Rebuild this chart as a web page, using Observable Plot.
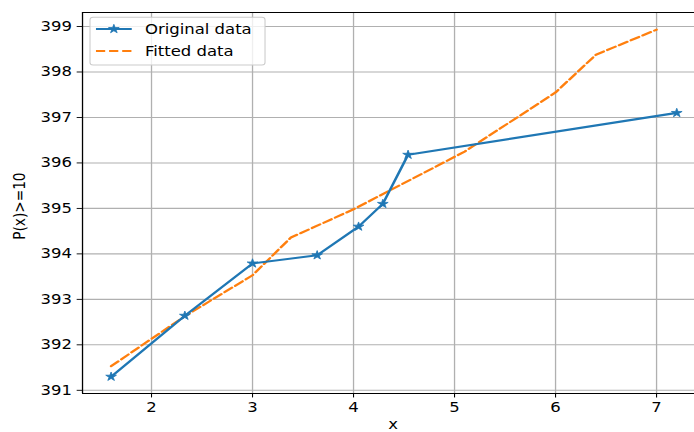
<!DOCTYPE html>
<html>
<head>
<meta charset="utf-8">
<script src="https://cdn.jsdelivr.net/npm/d3@7"></script>
<script src="https://cdn.jsdelivr.net/npm/@observablehq/plot@0.6"></script>
<style>
  html, body { margin: 0; padding: 0; background: #fff; }
  #chart { width: 694px; height: 432px; overflow: hidden; }
</style>
</head>
<body>
<div id="chart"></div>
<script>
// ---- data ----
const seriesNames = ["Original data", "Fitted data"];
const origX = [1.6, 2.33, 3.0, 3.64, 4.05, 4.29, 4.54, 7.2];
const origY = [391.3, 392.64, 393.79, 393.97, 394.6, 395.1, 396.18, 397.1];
const fitX = [1.6, 2.33, 3.0, 3.38, 4.0, 5.1, 6.0, 6.4, 7.0];
const fitY = [391.53, 392.63, 393.53, 394.36, 394.98, 396.25, 397.55, 398.38, 398.93];
const xTicks = [2, 3, 4, 5, 6, 7];
const yTicks = [391, 392, 393, 394, 395, 396, 397, 398, 399];
const xLabel = "x";
const yLabel = "P(x)>=10";

const orig = origX.map((x, i) => ({x, y: origY[i]}));
const fit = fitX.map((x, i) => ({x, y: fitY[i]}));

const blue = "#1f77b4", orange = "#ff7f0e";
const FS = 15.2;
const LW = 2.4;
const DASH = "8.5,3.6";
const xDomain = [1.317, 7.376];
const yDomain = [390.93, 399.31];

const svg = Plot.plot({
  width: 640,
  height: 480,
  marginLeft: 75.6,
  marginRight: 0,
  marginTop: 13.3,
  marginBottom: 43.3,
  style: {fontFamily: "DejaVu Sans", fontSize: FS + "px", color: "#000", background: "#fff"},
  x: {domain: xDomain, label: null},
  y: {domain: yDomain, label: null},
  marks: [
    Plot.gridX(xTicks, {stroke: "#b0b0b0", strokeOpacity: 1, strokeWidth: 1.2}),
    Plot.gridY(yTicks, {stroke: "#b0b0b0", strokeOpacity: 1, strokeWidth: 1.2}),
    Plot.ruleX([xDomain[0]], {stroke: "#000", strokeWidth: 1.2}),
    Plot.ruleY([yDomain[0], yDomain[1]], {stroke: "#000", strokeWidth: 1.2}),
    Plot.axisX(xTicks, {tickSize: 4.9, tickPadding: 4.9, fontSize: FS, stroke: "#000", label: null}),
    Plot.axisY(yTicks, {tickSize: 4.9, tickPadding: 4.9, fontSize: FS, stroke: "#000", label: null, tickFormat: d => String(d)}),
    Plot.line(fit, {x: "x", y: "y", stroke: orange, strokeWidth: LW, strokeDasharray: DASH}),
    Plot.line(orig, {x: "x", y: "y", stroke: blue, strokeWidth: LW}),
    Plot.dot(orig, {x: "x", y: "y", symbol: "star", r: 3.1, fill: blue, stroke: blue, strokeWidth: 0.8})
  ]
});

const root = d3.select(svg);
// axis labels (640x480 coordinate space)
root.append("text")
  .attr("transform", "translate(17.5,229) rotate(-90)")
  .attr("text-anchor", "middle").attr("dy", "0.36em")
  .attr("font-family", "DejaVu Sans").attr("font-size", FS).attr("fill", "#000")
  .text(yLabel);
root.append("text")
  .attr("x", 362.5).attr("y", 476.5)
  .attr("text-anchor", "middle")
  .attr("font-family", "DejaVu Sans").attr("font-size", FS).attr("fill", "#000")
  .text(xLabel);

// legend
const g = root.append("g")
  .attr("font-family", "DejaVu Sans").attr("font-size", FS).attr("text-anchor", "start");
g.append("rect").attr("x", 83).attr("y", 19.2).attr("width", 161.4).attr("height", 53)
  .attr("rx", 2.8).attr("fill", "#fff").attr("fill-opacity", 0.8)
  .attr("stroke", "#cccccc").attr("stroke-width", 1);
const rows = [
  {name: seriesNames[0], y: 32.2, color: blue, dash: null, star: true},
  {name: seriesNames[1], y: 56.7, color: orange, dash: DASH, star: false}
];
for (const r of rows) {
  const l = g.append("line").attr("x1", 88.5).attr("x2", 121.5).attr("y1", r.y).attr("y2", r.y)
    .attr("stroke", r.color).attr("stroke-width", LW);
  if (r.dash) l.attr("stroke-dasharray", r.dash);
  if (r.star) {
    g.append("path").attr("d", d3.symbol(d3.symbolStar, 30)())
      .attr("transform", `translate(105,${r.y})`).attr("fill", r.color).attr("stroke", r.color).attr("stroke-width", 0.8);
  }
  g.append("text").attr("x", 133.7).attr("y", r.y).attr("dy", "0.36em").attr("fill", "#000").text(r.name);
}

svg.setAttribute("width", 694);
svg.setAttribute("height", 432);
svg.setAttribute("preserveAspectRatio", "none");
svg.style.width = "694px";
svg.style.height = "432px";
svg.style.maxWidth = "none";
document.getElementById("chart").appendChild(svg);
</script>
</body>
</html>
